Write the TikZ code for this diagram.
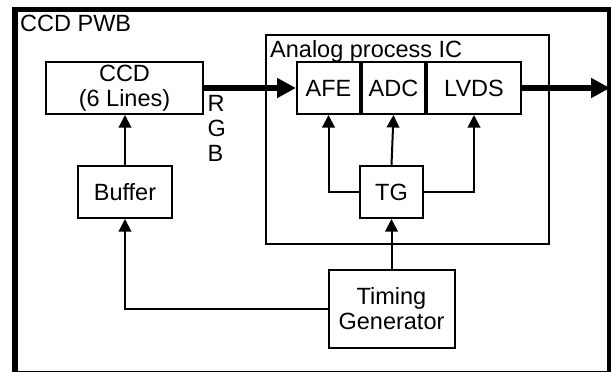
\documentclass[tikz,border=0pt]{standalone}
\usepackage{fontspec}
\setmainfont{Liberation Sans}
\usetikzlibrary{arrows.meta, positioning}

\begin{document}
\begin{tikzpicture}[x=1pt, y=-1pt,
  blk/.style={draw, line width=2pt, minimum height=52pt, inner sep=0pt, align=center},
  lbl/.style={inner sep=0pt, anchor=base west},
  sig/.style={line width=2pt, -{Triangle[length=12.5pt,width=12.5pt]}},
  bus/.style={line width=5.5pt, -{Triangle[length=19pt,width=19pt]}},
  every node/.style={font=\fontsize{23.5}{25}\selectfont}]
  \clip (0,0) rectangle (611,372);
  \draw[line width=5.5pt] (15,9.5) rectangle (610,374);
  \node[lbl] (pwb) at (20,31.7) {CCD PWB};
  % analog process IC
  \node[draw, line width=2pt, minimum width=283pt, minimum height=209pt, inner sep=0pt] (ic) at (407.5,139.5) {};
  \node[lbl] (iclbl) at (270,57) {Analog process IC};
  \node[blk, minimum width=63pt] (afe) at (328.5,88) {AFE};
  \node[blk, minimum width=63pt, right=0pt of afe] (adc) {ADC};
  \node[blk, minimum width=94pt, right=0pt of adc] (lvds) {LVDS};
  \node[blk, minimum width=63pt] (tg) at (391.5,192) {TG};
  % sensor side
  \node[blk, minimum width=157pt] (ccd) at (124.5,88) {CCD\\(6 Lines)};
  \node[blk, minimum width=94pt] (buf) at (125,192) {Buffer};
  \node[blk, minimum width=126pt, minimum height=78pt] (timgen) at (391.5,309) {Timing\\Generator};
  \node[lbl, align=left] (rgb) at (207.5,161.7) {R\\G\\B};
  \coordinate (out) at (610,88);
  % connections
  \draw[bus] (ccd.east) -- (afe.west);
  \draw[bus] (lvds.east) -- (out);
  \draw[sig] (buf.north) -- (buf.north |- ccd.south);
  \draw[sig] (tg.north) -- (adc.south);
  \draw[sig] (tg.west) -| (afe.south);
  \draw[sig] (tg.east) -| (lvds.south);
  \draw[sig] (timgen.north) -- (tg.south);
  \draw[sig] (timgen.west) -| (buf.south);
\end{tikzpicture}
\end{document}
